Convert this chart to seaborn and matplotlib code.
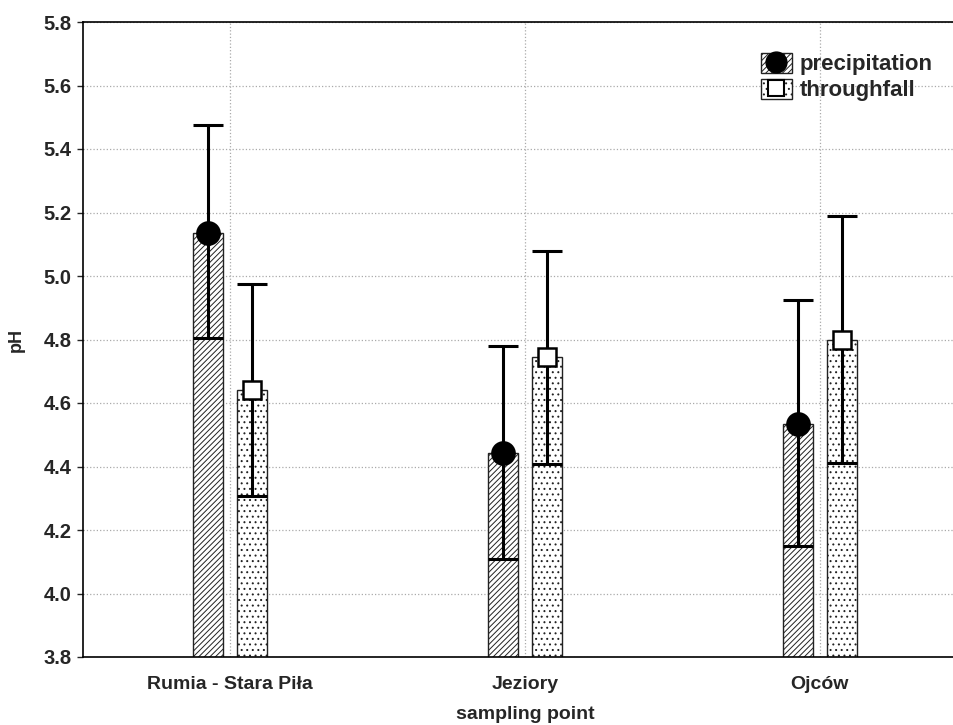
import matplotlib
matplotlib.use("Agg")
import matplotlib.pyplot as plt
import seaborn as sns
import pandas as pd
from matplotlib.patches import Patch
from matplotlib.lines import Line2D
from matplotlib.legend_handler import HandlerTuple

sites = ["Rumia - Stara Piła", "Jeziory", "Ojców"]
series = ["precipitation", "throughfall"]
precip_mean = [5.135, 4.443, 4.534]
precip_upper = [5.476, 4.780, 4.924]
precip_lower = [4.805, 4.109, 4.150]
through_mean = [4.641, 4.745, 4.797]
through_upper = [4.975, 5.079, 5.189]
through_lower = [4.308, 4.408, 4.411]
yticks = [3.8, 4.0, 4.2, 4.4, 4.6, 4.8, 5.0, 5.2, 5.4, 5.6, 5.8]

sns.set_style("white")
plt.rcParams["font.family"] = ["Liberation Sans", "DejaVu Sans"]
plt.rcParams["hatch.linewidth"] = 0.7

df = pd.DataFrame({
    "site": sites * 2,
    "series": [series[0]] * 3 + [series[1]] * 3,
    "pH": precip_mean + through_mean,
})

fig = plt.figure(figsize=(9.54, 7.25), dpi=100)
ax = fig.add_axes([83 / 954, 1 - 657 / 725, (967 - 83) / 954, (657 - 22) / 725])

sns.barplot(data=df, x="site", y="pH", hue="series", order=sites, hue_order=series,
            width=0.3, gap=0.32, palette=["white", "white"], edgecolor="#222222",
            linewidth=1.0, errorbar=None, legend=False, ax=ax, zorder=2)

hatches = {"precipitation": "//////", "throughfall": "..."}
n = len(sites)
centers = {}
for i, p in enumerate(ax.patches[:2 * n]):
    s = series[i // n]
    p.set_hatch(hatches[s])
    centers.setdefault(s, []).append(p.get_x() + p.get_width() / 2)

for s, m, up, lo, mk, fc, ms in [
    ("precipitation", precip_mean, precip_upper, precip_lower, "o", "black", 16),
    ("throughfall", through_mean, through_upper, through_lower, "s", "white", 13),
]:
    xs = centers[s]
    yerr = [[mm - l for mm, l in zip(m, lo)], [u - mm for mm, u in zip(m, up)]]
    ax.errorbar(xs, m, yerr=yerr, fmt="none", ecolor="black", elinewidth=2.2,
                capsize=11, capthick=2.2, zorder=3)
    ax.plot(xs, m, linestyle="none", marker=mk, markersize=ms, markerfacecolor=fc,
            markeredgecolor="black", markeredgewidth=1.8, zorder=4)

ax.set_ylim(3.8, 5.8)
ax.set_xlim(-0.5, 2.5)
ax.set_yticks(yticks)
ax.set_yticklabels([f"{t:.1f}" for t in yticks], fontsize=14.5, fontweight="bold")
ax.set_xticks(range(n))
ax.set_xticklabels(sites, fontsize=14, fontweight="bold")
ax.tick_params(axis="y", direction="out", length=4, width=1, pad=4, left=True)
ax.tick_params(axis="x", length=0, pad=14)
ax.grid(True, axis="both", color="#aaaaaa", linestyle=":", linewidth=0.9, zorder=0)
ax.set_axisbelow(True)
for sp in ax.spines.values():
    sp.set_color("black")
    sp.set_linewidth(1.2)
ax.set_ylabel("pH", fontsize=13, fontweight="bold", labelpad=14)
ax.set_xlabel("sampling point", fontsize=14, fontweight="bold", labelpad=9)

h1 = (Patch(facecolor="white", edgecolor="#222222", hatch="//////"),
      Line2D([], [], linestyle="none", marker="o", markersize=15, markerfacecolor="black",
             markeredgecolor="black"))
h2 = (Patch(facecolor="white", edgecolor="#222222", hatch="..."),
      Line2D([], [], linestyle="none", marker="s", markersize=12, markerfacecolor="white",
             markeredgecolor="black", markeredgewidth=1.5))
fig.legend([h1, h2], series, handler_map={tuple: HandlerTuple(ndivide=1, pad=0)},
           loc="upper left", bbox_to_anchor=(752 / 954, 1 - 44 / 725), frameon=False,
           prop={"size": 16, "weight": "bold"}, handlelength=1.4, handleheight=1.0,
           handletextpad=0.35, labelspacing=0.15, borderaxespad=0)

fig.savefig("out.png", dpi=100)
